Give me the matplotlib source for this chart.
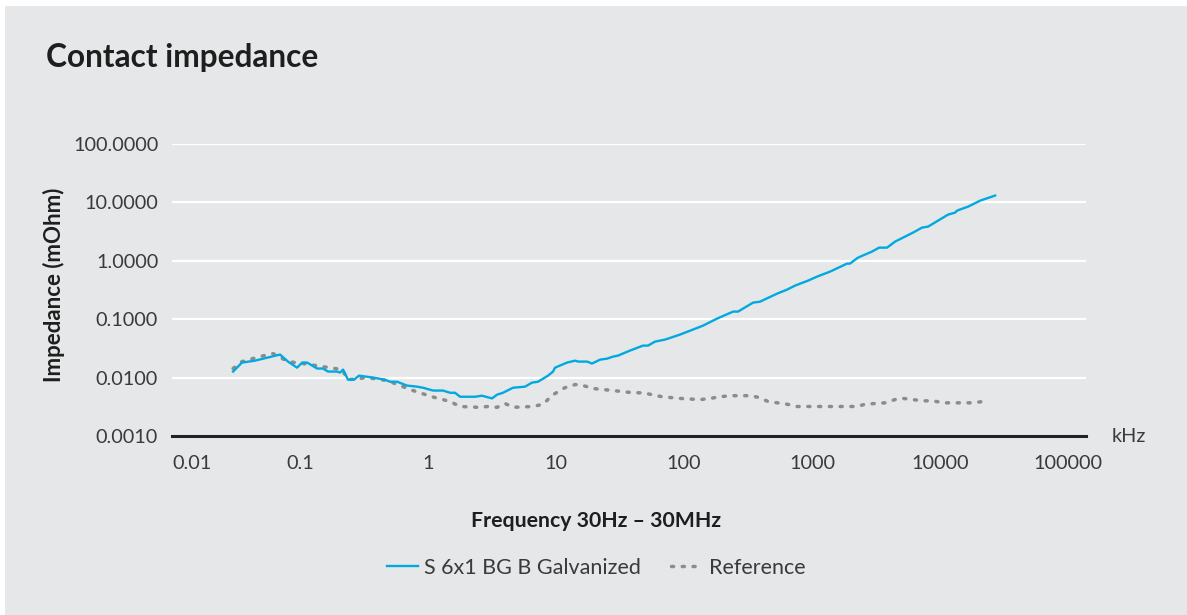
import matplotlib.pyplot as plt
from matplotlib.patches import Rectangle
import numpy as np

plt.rcParams['font.family'] = ['Lato', 'DejaVu Sans']

# Frequency (kHz) and impedance (mOhm)
galv_freq = [0.030, 0.0352, 0.0445, 0.0698, 0.0806, 0.0948, 0.104, 0.1135, 0.136, 0.151,
             0.1655, 0.1945, 0.205, 0.217, 0.237, 0.264, 0.289, 0.372, 0.461, 0.505,
             0.573, 0.685, 0.82, 0.914, 1.094, 1.31, 1.485, 1.626, 1.78, 2.33,
             2.64, 3.16, 3.46, 3.85, 4.61, 5.73, 6.49, 7.23, 8.66, 9.48,
             9.82, 12.2, 14.1, 14.9, 17.5, 19.1, 22.1, 25.0, 27.9, 30.5,
             37.8, 47.8, 52.3, 59.3, 71.1, 93, 141, 181, 242, 264,
             346, 393, 533, 638, 736, 931, 1094, 1383, 1877, 1981,
             2287, 2943, 3336, 3855, 4449, 6150, 7230, 8060, 11550, 13100,
             13580, 16560, 20540, 26900]
galv_imp = [0.0127, 0.0181, 0.0195, 0.0248, 0.0188, 0.0148, 0.0181, 0.0181, 0.0143, 0.0143,
            0.0127, 0.0127, 0.0122, 0.0137, 0.0092, 0.0092, 0.0108, 0.0100, 0.0092, 0.0085,
            0.0085, 0.0073, 0.0070, 0.0067, 0.0060, 0.0060, 0.0055, 0.0055, 0.0047, 0.0047,
            0.0049, 0.0044, 0.0051, 0.0055, 0.0067, 0.0070, 0.0082, 0.0085, 0.0108, 0.0127,
            0.0148, 0.0181, 0.0195, 0.0188, 0.0188, 0.0174, 0.0203, 0.0211, 0.0229, 0.0238,
            0.029, 0.0353, 0.0353, 0.0413, 0.0448, 0.0545, 0.0777, 0.1024, 0.135, 0.135,
            0.192, 0.200, 0.274, 0.321, 0.376, 0.458, 0.536, 0.653, 0.896, 0.896,
            1.135, 1.44, 1.68, 1.68, 2.13, 3.04, 3.70, 3.85, 6.18, 6.68,
            7.24, 8.47, 10.7, 13.1]

ref_freq = [0.030, 0.0352, 0.0487, 0.0616, 0.0806, 0.1055, 0.151, 0.213, 0.237, 0.334,
            0.479, 0.764, 1.075, 1.485, 1.78, 2.46, 2.94, 3.46, 4.0, 4.61,
            6.61, 7.91, 9.48, 11.7, 14.1, 16.3, 19.5, 27.9, 40.0, 47.8,
            56.2, 67.3, 93, 133, 160, 191, 229, 328, 379, 453,
            638, 764, 1094, 1567, 2248, 2594, 3715, 4449, 5140, 7370,
            8810, 10550, 15140, 18100, 21700]
ref_imp = [0.0143, 0.0188, 0.0229, 0.0258, 0.0188, 0.0174, 0.0154, 0.0137, 0.0092, 0.0100,
           0.0089, 0.0060, 0.0047, 0.0039, 0.0032, 0.0031, 0.0032, 0.0031, 0.0036, 0.0031,
           0.0032, 0.0035, 0.0051, 0.0067, 0.0076, 0.0073, 0.0065, 0.0060, 0.0055, 0.0055,
           0.0051, 0.0047, 0.0044, 0.0042, 0.0044, 0.0047, 0.0049, 0.0049, 0.0046, 0.0039,
           0.0035, 0.0032, 0.0032, 0.0032, 0.0032, 0.0035, 0.0037, 0.0042, 0.0044, 0.0040,
           0.0040, 0.0037, 0.0037, 0.0037, 0.0039]

y_ticks = [0.001, 0.01, 0.1, 1, 10, 100]
y_labels = ["0.0010", "0.0100", "0.1000", "1.0000", "10.0000", "100.0000"]
x_ticks = [0.01, 0.1, 1, 10, 100, 1000, 10000, 100000]
x_labels = ["0.01", "0.1", "1", "10", "100", "1000", "10000", "100000"]

bg = "#e6e7e8"
blue = "#00a9e0"
grey = "#8c8c8c"
txt = "#3a3a3a"

fig = plt.figure(figsize=(11.87, 6.15), dpi=100, facecolor="white")
fig.patches.append(Rectangle((5 / 1187, 0), 1, 1 - 6 / 615, transform=fig.transFigure,
                             facecolor=bg, edgecolor="none", zorder=-10))

ax = fig.add_axes([172 / 1187, 1 - 436 / 615, (1086 - 172) / 1187, (436 - 144) / 615])
ax.set_facecolor("none")
ax.set_xscale("log")
ax.set_yscale("log")
ax.set_xlim(0.01, 10 ** 5.14)
ax.set_ylim(0.001, 100)

for yt in y_ticks[1:]:
    ax.axhline(yt, color="white", lw=1.6, zorder=1)

ax.plot(galv_freq, galv_imp, color=blue, lw=1.7, zorder=3, label="S 6x1 BG B Galvanized")
ax.plot(ref_freq, ref_imp, color=grey, lw=2.5, linestyle=(0, (0.6, 2.5)),
        dash_capstyle="round", zorder=2, label="Reference")

for s in ["top", "right", "left"]:
    ax.spines[s].set_visible(False)
ax.spines["bottom"].set_color("#222222")
ax.spines["bottom"].set_linewidth(2.2)

ax.set_yticks(y_ticks)
ax.set_yticklabels(y_labels)
ax.set_xticks(x_ticks)
ax.set_xticklabels(x_labels)
ax.minorticks_off()
ax.tick_params(axis="y", length=0, pad=10, labelsize=14.3, labelcolor=txt)
ax.tick_params(axis="x", length=0, pad=14, labelsize=14.3, labelcolor=txt)
ax.get_xticklabels()[0].set_horizontalalignment("left")

fig.text(46 / 1187, 1 - 58 / 615, "Contact impedance", fontsize=22.8, fontweight="bold",
         color="#1e1e1e", ha="left", va="center")
fig.text(54 / 1187, 1 - 285 / 615, "Impedance (mOhm)", fontsize=16, fontweight="bold",
         color="#1e1e1e", rotation=90, ha="center", va="center")
fig.text(596 / 1187, 1 - 521 / 615, "Frequency 30Hz \u2013 30MHz", fontsize=15.3,
         fontweight="bold", color="#1e1e1e", ha="center", va="center")
fig.text(1112 / 1187, 1 - 436 / 615, "kHz", fontsize=14.3, color=txt, ha="left", va="center")

fig.legend(loc="center", bbox_to_anchor=(596 / 1187, 1 - 568 / 615), ncol=2, frameon=False,
           fontsize=15.5, handlelength=1.45, handletextpad=0.3, columnspacing=1.4,
           labelcolor=txt)

fig.savefig("out.png", dpi=100, facecolor="white")
